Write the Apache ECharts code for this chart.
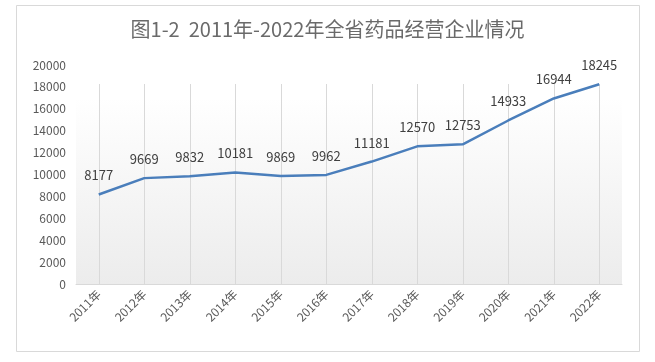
<!DOCTYPE html>
<html><head><meta charset="utf-8">
<script src="https://cdn.jsdelivr.net/npm/echarts@6/dist/echarts.min.js"></script>
<style>html,body{margin:0;padding:0;background:#fff}#c{width:655px;height:362px}</style>
</head><body><div id="c"></div>
<script>
const titleText = '图1-2  2011年-2022年全省药品经营企业情况';
const categories = ['2011年','2012年','2013年','2014年','2015年','2016年','2017年','2018年','2019年','2020年','2021年','2022年'];
const values = [8177, 9669, 9832, 10181, 9869, 9962, 11181, 12570, 12753, 14933, 16944, 18245];
const yTicks = {min: 0, max: 20000, interval: 2000};

const chart = echarts.init(document.getElementById('c'));
const font = '"Microsoft YaHei","Noto Sans CJK SC","Liberation Sans",sans-serif';
chart.setOption({
  animation: false,
  backgroundColor: '#fff',
  graphic: [{
    type: 'rect', shape: {x: 16.5, y: 5.5, width: 623, height: 346},
    style: {fill: 'none', stroke: '#d9d9d9', lineWidth: 1}, z: -10
  }],
  title: {
    text: titleText, left: 'center', top: 14,
    textStyle: {fontFamily: font, fontSize: 20, fontWeight: 'normal', color: '#6a6a6a'}
  },
  grid: {
    left: 76, right: 33, top: 65, bottom: 78, show: true, borderWidth: 0,
    backgroundColor: new echarts.graphic.LinearGradient(0, 0, 0, 1, [
      {offset: 0, color: '#ffffff'}, {offset: 0.15, color: '#ffffff'}, {offset: 1, color: '#ececec'}
    ])
  },
  xAxis: {
    type: 'category', data: categories, boundaryGap: true,
    axisLine: {lineStyle: {color: '#d9d9d9', width: 1}},
    axisTick: {show: true, alignWithLabel: true, inside: true, length: 200, lineStyle: {color: '#d9d9d9'}},
    splitLine: {show: false},
    axisLabel: {rotate: 45, color: '#595959', fontSize: 12, fontFamily: font, margin: 8, interval: 0}
  },
  yAxis: {
    type: 'value', min: yTicks.min, max: yTicks.max, interval: yTicks.interval,
    axisLine: {show: false}, axisTick: {show: false}, splitLine: {show: false},
    axisLabel: {color: '#595959', fontSize: 12, fontFamily: font, margin: 10, formatter: v => String(v)}
  },
  series: [{
    type: 'line', data: values, symbol: 'circle', symbolSize: 1, showSymbol: true,
    itemStyle: {color: 'rgba(74,126,187,0)', borderWidth: 0},
    lineStyle: {color: '#4a7ebb', width: 2.5},
    label: {show: true, position: 'top', distance: 12, color: '#404040', fontSize: 13, fontFamily: font,
            formatter: p => String(p.value)}
  }]
});
</script></body></html>
